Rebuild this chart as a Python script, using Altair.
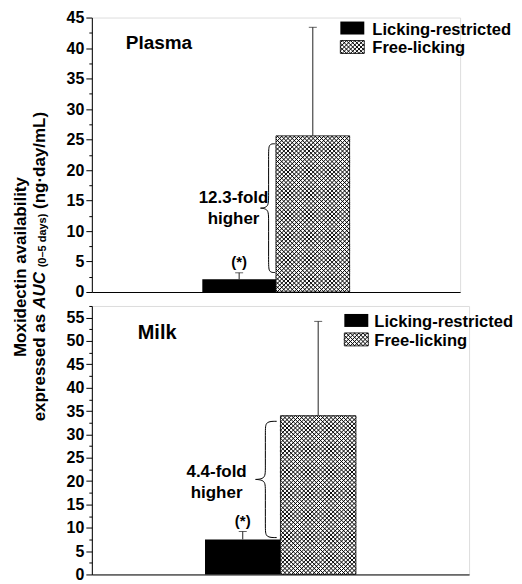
import altair as alt
import pandas as pd

groups = ["Licking-restricted", "Free-licking"]
plasma_mean = [2.1, 25.6]
plasma_sd = [1.05, 17.8]
milk_mean = [7.5, 34.0]
milk_sd = [1.7, 20.2]
plasma_ticks = [i * 2.5 for i in range(19)]
milk_ticks = [i * 2.5 for i in range(24)]
plasma_brace = [3.2, 24.3]
milk_brace = [7.9, 32.8]
plasma_fold = "12.3-fold\nhigher"
milk_fold = "4.4-fold\nhigher"
panel_titles = ["Plasma", "Milk"]
ytitle_line1 = "Moxidectin availability"
ytitle_parts = ["expressed as", "AUC", "(0\u20135 days)", "(ng\u00b7day/mL)"]

FONT = "Liberation Sans"
LEG_SIZE = 16.6


def hatch_path(w, h, p=4.2):
    """Cross-hatch (45 deg both ways) as an SVG path, normalised to half-width units."""
    r = w / 2.0
    segs = []
    hw, hh = w / 2.0, h / 2.0
    n = int((w + h) / p) + 2
    for sgn in (1, -1):
        for i in range(n):
            c = -(hw + hh) + (i + 0.5) * p
            x0 = max(-hw, c - hh)
            x1 = min(hw, c + hh)
            if x1 - x0 < 0.05:
                continue
            if sgn == 1:
                y0, y1 = c - x0, c - x1
            else:
                y0, y1 = x0 - c, x1 - c
            segs.append("M%.3f %.3fL%.3f %.3f" % (x0 / r, y0 / r, x1 / r, y1 / r))
    return "".join(segs)


def one(text=""):
    return pd.DataFrame({"t": [text]})


def txt(text, x, y, size, align="left", baseline="alphabetic", angle=0, style="normal", weight="bold", lh=None):
    kw = dict(font=FONT, fontSize=size, fontWeight=weight, fontStyle=style, color="black",
              align=align, baseline=baseline, angle=angle, lineBreak="\n")
    if lh:
        kw["lineHeight"] = lh
    return alt.Chart(one(text)).mark_text(**kw).encode(
        text="t:N", x=alt.value(x), y=alt.value(y))


def swatch(x, y, w, h, pattern):
    if not pattern:
        return [alt.Chart(one()).mark_rect(color="black").encode(
            x=alt.value(x), x2=alt.value(x + w), y=alt.value(y), y2=alt.value(y + h))]
    return [
        alt.Chart(one()).mark_rect(fill="white", stroke="black", strokeWidth=0.8).encode(
            x=alt.value(x), x2=alt.value(x + w), y=alt.value(y), y2=alt.value(y + h)),
        alt.Chart(one()).mark_point(shape=hatch_path(w, h), filled=False, stroke="black",
                                    strokeWidth=1, opacity=1, size=w * w).encode(
            x=alt.value(x + w / 2), y=alt.value(y + h / 2)),
    ]


def brace_df(lo, hi, tip, body, end):
    mid = (lo + hi) / 2
    c = (hi - lo) * 0.04
    tctrl = body + 1.5 * (tip - body)
    pts = [(end, lo), (body, lo), (body, lo + 2 * c), (body, mid - 2 * c), (body, mid),
           (tctrl, mid), (body, mid), (body, mid + 2 * c), (body, hi - 2 * c), (body, hi), (end, hi)]
    return pd.DataFrame({"i": range(len(pts)), "bx": [p[0] for p in pts], "by": [p[1] for p in pts]})


def panel(mean, sd, ticks, ymax, w, h, brace, brace_x, fold, fold_xy, title, title_xy, title_size,
          leg_x, leg_y, leg_gap, extra=None):
    df = pd.DataFrame({"group": groups, "mean": mean, "sd": sd})
    base = alt.Chart(df).transform_calculate(top="datum.mean + datum.sd", mid="datum.mean / 2")
    xenc = alt.X("group:N", sort=groups,
                 scale=alt.Scale(domain=groups, range=[0.3 * w, 0.7 * w],
                                 paddingInner=0, paddingOuter=0),
                 axis=None)
    yscale = alt.Scale(domain=[0, ymax], nice=False, zero=True)
    yaxis = alt.Axis(
        values=ticks, title=None, grid=False,
        labelExpr="datum.value % 5 === 0 ? datum.label : ''",
        tickSize={"condition": {"test": "datum.value % 5 === 0", "value": 6}, "value": 3},
        tickColor="black", tickWidth=1, domainColor="black", domainWidth=1,
        labelFont=FONT, labelFontSize=16, labelFontWeight="bold", labelColor="black",
        labelPadding=2,
    )
    yv = lambda f: alt.Y(f, scale=yscale, axis=yaxis)

    bar_w = w * 0.2
    bar_h = mean[1] / ymax * h

    black = base.transform_filter(alt.datum.group == groups[0]).mark_bar(color="black").encode(
        x=xenc, y=yv("mean:Q"))
    white = base.transform_filter(alt.datum.group == groups[1]).mark_bar(
        fill="white", stroke="black", strokeWidth=0.8).encode(x=xenc, y=yv("mean:Q"))
    hatch = base.transform_filter(alt.datum.group == groups[1]).mark_point(
        shape=hatch_path(bar_w, bar_h), filled=False, stroke="black", strokeWidth=1,
        opacity=1, size=bar_w * bar_w).encode(x=xenc, y=yv("mid:Q"))
    rule = base.mark_rule(color="#222222", strokeWidth=1).encode(
        x=xenc, y=yv("mean:Q"), y2="top:Q")
    cap = base.mark_tick(color="#222222", thickness=1, size=8).encode(x=xenc, y=yv("top:Q"))
    star = base.transform_filter(alt.datum.group == groups[0]).mark_text(
        font=FONT, fontSize=15, fontWeight="bold", color="black", baseline="bottom", dy=-3
    ).encode(x=xenc, y=yv("top:Q"), text=alt.value("(*)"))
    inner = alt.layer(black, white, hatch, rule, cap, star)

    bdf = brace_df(brace[0], brace[1], *brace_x)
    br = alt.Chart(bdf).mark_line(color="black", strokeWidth=1, interpolate="basis").encode(
        x=alt.X("bx:Q", scale=alt.Scale(domain=[0, 1], nice=False, zero=False),
                axis=alt.Axis(title=None, labels=False, ticks=False, grid=False, domain=True,
                              domainColor="black", domainWidth=1)),
        y=yv("by:Q"), order="i:Q")

    layers = [inner, br,
              txt(fold, fold_xy[0], fold_xy[1], 17, align="center", baseline="middle", lh=21),
              txt(title, title_xy[0], title_xy[1], title_size)]
    layers += swatch(leg_x, leg_y[0], 24, 13, False)
    layers += swatch(leg_x, leg_y[1], 24, 13, True)
    layers += [txt(groups[0], leg_x + leg_gap, leg_y[0] + 13, LEG_SIZE),
               txt(groups[1], leg_x + leg_gap, leg_y[1] + 13, LEG_SIZE)]
    if extra:
        layers += extra
    return alt.layer(*layers).resolve_scale(x="independent").properties(width=w, height=h)


# y-axis title (rotated, mixed styles), positioned relative to the top panel
F2 = 17
wid = lambda units, size: units * size / 1000.0
p0 = wid(6357, F2)
p1 = wid(2166, F2)
p2 = wid(4891, 11)
p3 = wid(5667, F2)
gap = wid(278, F2)
total = p0 + gap + p1 + gap + p2 + gap + p3
start = 250 + total / 2
yt = [
    txt(ytitle_line1, -71, 250, 17, align="center", baseline="middle", angle=270),
    txt(ytitle_parts[0], -52, start, F2, baseline="middle", angle=270),
    txt(ytitle_parts[1], -52, start - p0 - gap, F2, baseline="middle", angle=270, style="italic"),
    txt(ytitle_parts[2], -48.5, start - p0 - p1 - 2 * gap, 11, baseline="middle", angle=270),
    txt(ytitle_parts[3], -52, start - p0 - p1 - p2 - 3 * gap, F2, baseline="middle", angle=270),
]

top = panel(plasma_mean, plasma_sd, plasma_ticks, 45, 369, 275, plasma_brace,
            (0.458, 0.48, 0.497), plasma_fold, (142, 181), panel_titles[0], (34, 32), 19,
            249, (4, 23), 32, extra=yt)
bottom = panel(milk_mean, milk_sd, milk_ticks, 57.5, 378, 269, milk_brace,
               (0.434, 0.46, 0.49), milk_fold, (125, 166), panel_titles[1], (46, 33), 20,
               253, (8, 27), 30)

chart = alt.vconcat(top, bottom, spacing=14, bounds="flush").properties(
    padding={"left": 3, "top": 0, "right": 0, "bottom": 0}
).configure_view(stroke=None).configure(font=FONT)

chart.save("out.html", embed_options={"renderer": "svg", "actions": False})
